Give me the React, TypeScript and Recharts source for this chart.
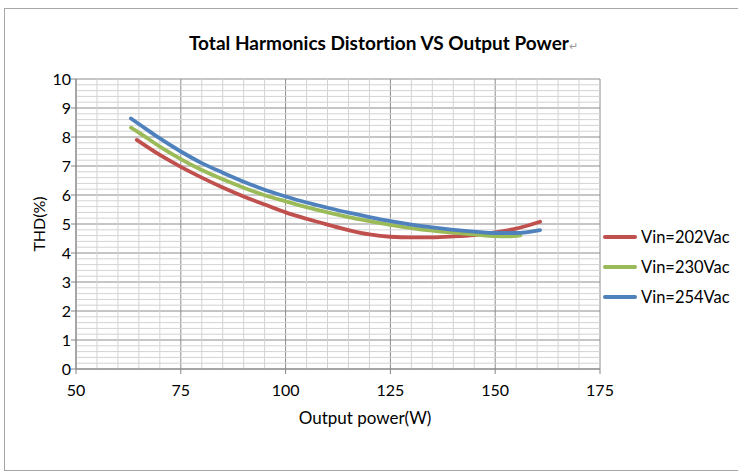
import { CartesianGrid, Line, LineChart, ReferenceLine, XAxis, YAxis } from "recharts"

// axis ticks
const powerTicks = [50, 75, 100, 125, 150, 175]
const thdTicks = [0, 1, 2, 3, 4, 5, 6, 7, 8, 9, 10]

// series
const seriesNames = ["Vin=202Vac", "Vin=230Vac", "Vin=254Vac"]
const seriesColors = ["#C0504D", "#9BBB59", "#4F81BD"]

const power202 = [64.5, 70, 75, 80, 85, 90, 95, 100, 105, 110, 115, 120, 125, 130, 135, 140, 145, 150, 155, 160.7]
const thd202 = [7.9, 7.38, 6.97, 6.6, 6.26, 5.95, 5.67, 5.4, 5.18, 4.98, 4.79, 4.64, 4.56, 4.54, 4.54, 4.57, 4.62, 4.71, 4.84, 5.08]

const power230 = [63.1, 65, 70, 75, 80, 85, 90, 95, 100, 105, 110, 115, 120, 125, 130, 135, 140, 145, 150, 153, 156]
const thd230 = [8.32, 8.15, 7.67, 7.24, 6.86, 6.54, 6.25, 5.99, 5.78, 5.58, 5.4, 5.24, 5.1, 4.97, 4.86, 4.77, 4.7, 4.64, 4.58, 4.57, 4.61]

const power254 = [63.1, 65, 70, 75, 80, 85, 90, 95, 100, 105, 110, 115, 120, 125, 130, 135, 140, 145, 150, 155, 160.7]
const thd254 = [8.64, 8.45, 7.95, 7.5, 7.1, 6.77, 6.46, 6.18, 5.95, 5.74, 5.56, 5.39, 5.24, 5.1, 4.98, 4.88, 4.8, 4.74, 4.69, 4.69, 4.79]

const toPoints = (xs: number[], ys: number[]) => xs.map((w, i) => ({ w, thd: ys[i] }))
const seriesData = [toPoints(power202, thd202), toPoints(power230, thd230), toPoints(power254, thd254)]

// minor grid lines every 5 W / 0.2 %, skipping the major ones
const minorX: number[] = []
for (let v = 55; v < 175; v += 5) if (v % 25 !== 0) minorX.push(v)
const minorY: number[] = []
for (let i = 1; i < 50; i++) if (i % 5 !== 0) minorY.push(i / 5)

const font = "Lato, 'Open Sans', sans-serif"

export default function App() {
  return (
    <div
      style={{
        position: "absolute",
        left: 0,
        top: 0,
        width: 738,
        height: 473,
        background: "#fff",
        fontFamily: font,
        fontVariantLigatures: "none",
      }}
    >
      {/* frame */}
      <div
        style={{
          position: "absolute",
          left: 4,
          top: 8,
          width: 760,
          height: 461,
          border: "1px solid #a6a6a6",
        }}
      />
      <div
        style={{
          position: "absolute",
          left: 189,
          top: 31,
          fontSize: 19,
          fontWeight: 700,
          color: "#000",
          whiteSpace: "nowrap",
        }}
      >
        Total Harmonics Distortion VS Output Power
        <span style={{ fontSize: 11, fontWeight: 400, color: "#999" }}>↵</span>
      </div>

      <LineChart
        width={738}
        height={473}
        margin={{ top: 79, right: 138, left: 26, bottom: 48 }}
        style={{ position: "absolute", left: 0, top: 0 }}
      >
        {minorX.map((v) => (
          <ReferenceLine key={`x${v}`} x={v} stroke="#d3d3d3" strokeWidth={1} />
        ))}
        {minorY.map((v) => (
          <ReferenceLine key={`y${v}`} y={v} stroke="#d3d3d3" strokeWidth={1} />
        ))}
        <CartesianGrid stroke="#8c8c8c" strokeWidth={1} />
        <XAxis
          type="number"
          dataKey="w"
          domain={[50, 175]}
          ticks={powerTicks}
          allowDataOverflow
          height={56}
          stroke="#868686"
          tickSize={5}
          tickMargin={11}
          tick={{ fill: "#000", fontSize: 16, fontFamily: font }}
          label={{
            content: ({ viewBox }: any) => (
              <text
                x={viewBox.x + viewBox.width / 2 + 27}
                y={viewBox.y + 55}
                textAnchor="middle"
                fontSize={17}
                fontFamily={font}
                fill="#000"
              >
                Output power(W)
              </text>
            ),
          }}
        />
        <YAxis
          type="number"
          domain={[0, 10]}
          ticks={thdTicks}
          width={50}
          stroke="#868686"
          tickSize={5}
          tickMargin={0}
          tick={{ fill: "#000", fontSize: 16, fontFamily: font }}
          label={{
            content: ({ viewBox }: any) => {
              const cx = viewBox.x + 12
              const cy = viewBox.y + viewBox.height / 2
              return (
                <text
                  x={cx}
                  y={cy}
                  transform={`rotate(-90 ${cx} ${cy})`}
                  textAnchor="middle"
                  dominantBaseline="central"
                  fontSize={16}
                  fontFamily={font}
                  fill="#000"
                >
                  THD(%)
                </text>
              )
            },
          }}
        />
        {seriesData.map((d, i) => (
          <Line
            key={seriesNames[i]}
            data={d}
            dataKey="thd"
            name={seriesNames[i]}
            type="monotone"
            stroke={seriesColors[i]}
            strokeWidth={3.8}
            strokeLinecap="round"
            dot={false}
            activeDot={false}
            isAnimationActive={false}
          />
        ))}
      </LineChart>

      {/* legend */}
      <div style={{ position: "absolute", left: 603, top: 222 }}>
        {seriesNames.map((name, i) => (
          <div key={name} style={{ display: "flex", alignItems: "center", height: 30 }}>
            <div style={{ width: 34, height: 4, background: seriesColors[i], borderRadius: 2, marginRight: 4 }} />
            <span style={{ fontSize: 16.5, color: "#000", whiteSpace: "nowrap" }}>{name}</span>
          </div>
        ))}
      </div>
    </div>
  )
}
